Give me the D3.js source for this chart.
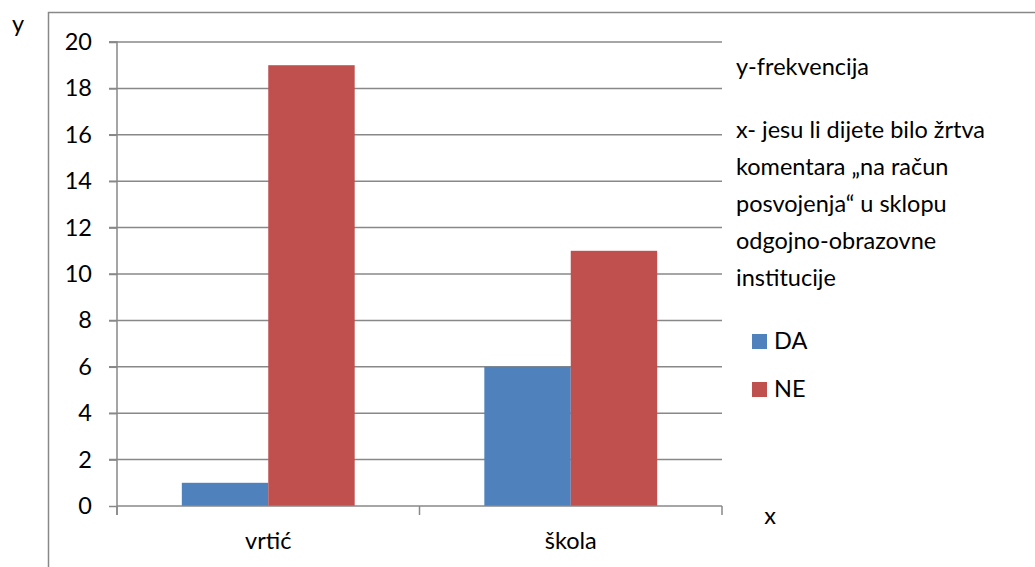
<!DOCTYPE html>
<html>
<head>
<meta charset="utf-8">
<script src="https://cdn.jsdelivr.net/npm/d3@7"></script>
<style>
html,body{margin:0;padding:0;background:#fff;}
svg{display:block;font-family:Lato,"Open Sans",sans-serif;}
</style>
</head>
<body>
<svg id="chart" width="1035" height="567"></svg>
<script>
const categories = ["vrtić", "škola"];
const seriesNames = ["DA", "NE"];
const daValues = [1, 6];
const neValues = [19, 11];
const yTicks = [0, 2, 4, 6, 8, 10, 12, 14, 16, 18, 20];
const noteLines = ["x- jesu li dijete bilo žrtva", "komentara „na račun", "posvojenja“ u sklopu", "odgojno-obrazovne", "institucije"];
const colors = ["#4F81BD", "#C0504D"];

(function () {
const svg = d3.select("#chart");
const grid = "#888888";
const fs = 23.5;

// outer frame
svg.append("rect").attr("x", 48.5).attr("y", 12.5).attr("width", 1100).attr("height", 700)
  .attr("fill", "none").attr("stroke", grid).attr("stroke-width", 1.5);

const pL = 117, pR = 722, pT = 42, pB = 506;
const x0 = d3.scaleBand().domain(categories).range([pL, pR]).paddingInner(0).paddingOuter(0);
const x1 = d3.scaleBand().domain(seriesNames).range([0, x0.bandwidth()]).paddingInner(0).paddingOuter(0.75);
const y = d3.scaleLinear().domain([0, 20]).range([pB, pT]);

// gridlines
svg.append("g").selectAll("line").data(yTicks.filter(d => d > 0)).join("line")
  .attr("x1", pL - 8).attr("x2", pR).attr("y1", d => y(d)).attr("y2", d => y(d))
  .attr("stroke", grid).attr("stroke-width", 1.5);

// y axis
const yAxis = svg.append("g").attr("transform", `translate(${pL},0)`)
  .call(d3.axisLeft(y).tickValues(yTicks).tickSize(8).tickPadding(17));
yAxis.select(".domain").attr("stroke", grid).attr("stroke-width", 1.5).attr("d", `M-8,${pT}H0V${pB + 9}`);
yAxis.selectAll(".tick line").attr("stroke", grid).attr("stroke-width", 1.5);
yAxis.selectAll(".tick text").attr("font-size", fs).attr("font-family", "Lato").attr("fill", "#000");

const data = categories.map((c, i) => ({cat: c, vals: [daValues[i], neValues[i]]}));

// bars
const gBars = svg.append("g");
data.forEach(d => {
  d.vals.forEach((v, j) => {
    gBars.append("rect")
      .attr("x", x0(d.cat) + x1(seriesNames[j]))
      .attr("y", y(v))
      .attr("width", x1.bandwidth())
      .attr("height", y(0) - y(v))
      .attr("fill", colors[j]);
  });
});

// x axis
const xAxis = svg.append("g").attr("transform", `translate(0,${pB})`)
  .call(d3.axisBottom(x0).tickSize(0).tickPadding(26));
xAxis.select(".domain").attr("stroke", grid).attr("stroke-width", 1.5).attr("d", `M${pL},0H${pR}`);
xAxis.selectAll(".tick text").attr("font-size", fs).attr("font-family", "Lato").attr("fill", "#000");
// category boundary ticks
const bounds = [pL, ...categories.slice(1).map(c => x0(c)), pR];
svg.append("g").selectAll("line").data(bounds).join("line")
  .attr("x1", d => d).attr("x2", d => d).attr("y1", pB).attr("y2", pB + 9)
  .attr("stroke", grid).attr("stroke-width", 1.5);

// axis letters
svg.append("text").attr("x", 18).attr("y", 32).attr("text-anchor", "middle")
  .attr("font-size", fs).attr("fill", "#000").text("y");
svg.append("text").attr("x", 770).attr("y", 524).attr("text-anchor", "middle")
  .attr("font-size", fs).attr("fill", "#000").text("x");

// notes
svg.append("text").attr("x", 736).attr("y", 75).attr("font-size", fs).attr("fill", "#000").text("y-frekvencija");
svg.append("g").selectAll("text").data(noteLines).join("text")
  .attr("x", 736).attr("y", (d, i) => 138 + i * 37).attr("font-size", fs).attr("fill", "#000").text(d => d);

// legend
const leg = svg.append("g").selectAll("g").data(seriesNames).join("g")
  .attr("transform", (d, i) => `translate(752,${334 + i * 48})`);
leg.append("rect").attr("width", 15).attr("height", 15).attr("fill", (d, i) => colors[i]);
leg.append("text").attr("x", 22).attr("y", 15).attr("font-size", fs).attr("fill", "#000").text(d => d);
})();
</script>
</body>
</html>
